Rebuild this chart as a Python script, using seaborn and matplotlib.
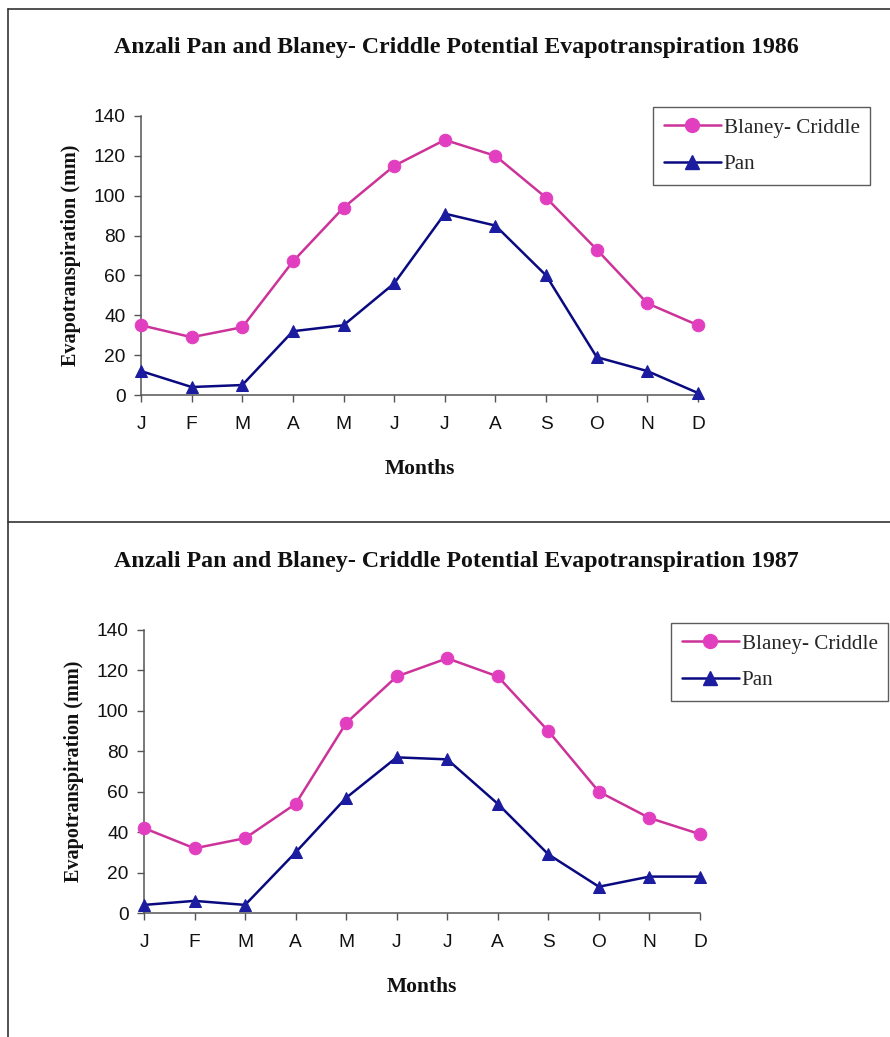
import numpy as np
import pandas as pd
import seaborn as sns
import matplotlib.pyplot as plt
from matplotlib.lines import Line2D

months = ["J", "F", "M", "A", "M", "J", "J", "A", "S", "O", "N", "D"]

blaney_1986 = [35, 29, 34, 67, 94, 115, 128, 120, 99, 73, 46, 35]
pan_1986 = [12, 4, 5, 32, 35, 56, 91, 85, 60, 19, 12, 1]

blaney_1987 = [42, 32, 37, 54, 94, 117, 126, 117, 90, 60, 47, 39]
pan_1987 = [4, 6, 4, 30, 57, 77, 76, 54, 29, 13, 18, 18]

series_names = ["Blaney- Criddle", "Pan"]
y_ticks = [0, 20, 40, 60, 80, 100, 120, 140]

sns.set_theme(style="white")
plt.rcParams["font.family"] = ["Liberation Sans", "DejaVu Sans"]

LINE_COL = {"Blaney- Criddle": "#cc3399", "Pan": "#0a0a80"}
FACE_COL = {"Blaney- Criddle": "#e23fc0", "Pan": "#1c1ca0"}
MARKERS = {"Blaney- Criddle": "o", "Pan": "^"}
SERIF = ["Liberation Serif", "DejaVu Serif"]

fig = plt.figure(figsize=(8.9, 10.37), dpi=100)
W, H = 890, 1037


def frac_box(left, top, right, bottom):
    return [left / W, 1 - bottom / H, (right - left) / W, (bottom - top) / H]


def draw_panel(ax, blaney, pan, legend_box):
    idx = np.arange(len(months))
    df = pd.DataFrame({
        "month": np.concatenate([idx, idx]),
        "value": blaney + pan,
        "series": [series_names[0]] * len(idx) + [series_names[1]] * len(idx),
    })
    for name in series_names:
        sub = df[df["series"] == name]
        sns.lineplot(data=sub, x="month", y="value", ax=ax,
                     color=LINE_COL[name], linewidth=1.8,
                     marker=MARKERS[name], markersize=9,
                     markerfacecolor=FACE_COL[name],
                     markeredgecolor=FACE_COL[name], legend=False,
                     clip_on=False, zorder=3)
    ax.set_xlim(0, len(months) - 1)
    ax.set_ylim(0, 140)
    ax.set_xticks(idx)
    ax.set_xticklabels(months)
    ax.set_yticks(y_ticks)
    ax.tick_params(axis="both", labelsize=13.8, colors="#555555",
                   labelcolor="#111111", length=5, width=1, direction="out",
                   left=True, bottom=True, pad=6)
    ax.tick_params(axis="x", pad=10)
    for s in ["top", "right"]:
        ax.spines[s].set_visible(False)
    for s in ["left", "bottom"]:
        ax.spines[s].set_color("#555555")
        ax.spines[s].set_linewidth(1.1)
    ax.set_facecolor("none")
    ax.set_xlabel("Months", fontsize=15.5, fontweight="bold", family=SERIF,
                  color="#111111", labelpad=19)
    ax.set_ylabel("Evapotranspiration (mm)", fontsize=14.5, fontweight="bold",
                  family=SERIF, color="#111111", labelpad=9)
    handles = [Line2D([0], [0], color=LINE_COL[n], marker=MARKERS[n],
                      markersize=10, markerfacecolor=FACE_COL[n],
                      markeredgecolor=FACE_COL[n], linewidth=1.8)
               for n in series_names]
    leg = fig.legend(handles, series_names, loc="upper left",
                     bbox_to_anchor=(legend_box[0] / W, 1 - legend_box[1] / H),
                     prop={"family": SERIF, "size": 15.2},
                     frameon=True, fancybox=False, handlelength=2.7,
                     handletextpad=0.12, borderpad=0.52, labelspacing=0.78,
                     borderaxespad=0)
    leg.get_frame().set_edgecolor("#333333")
    leg.get_frame().set_linewidth(1.0)
    return ax


ax1 = fig.add_axes(frac_box(141, 116, 698, 395))
draw_panel(ax1, blaney_1986, pan_1986, (653, 107))
fig.text(456 / W, 1 - 48 / H,
         "Anzali Pan and Blaney- Criddle Potential Evapotranspiration 1986",
         ha="center", va="center", fontsize=17.2, fontweight="bold",
         family=SERIF, color="#111111")

ax2 = fig.add_axes(frac_box(144, 630, 700, 913))
draw_panel(ax2, blaney_1987, pan_1987, (671, 623))
fig.text(456 / W, 1 - 562 / H,
         "Anzali Pan and Blaney- Criddle Potential Evapotranspiration 1987",
         ha="center", va="center", fontsize=17.2, fontweight="bold",
         family=SERIF, color="#111111")

# panel frames
frame_kw = dict(color="#333333", linewidth=1.2, transform=fig.transFigure)
fig.add_artist(Line2D([8 / W, 1], [1 - 9 / H, 1 - 9 / H], **frame_kw))
fig.add_artist(Line2D([8 / W, 8 / W], [1 - 9 / H, 0], **frame_kw))
fig.add_artist(Line2D([8 / W, 1], [1 - 522 / H, 1 - 522 / H], **frame_kw))

fig.savefig("out.png", dpi=100, facecolor="white")
